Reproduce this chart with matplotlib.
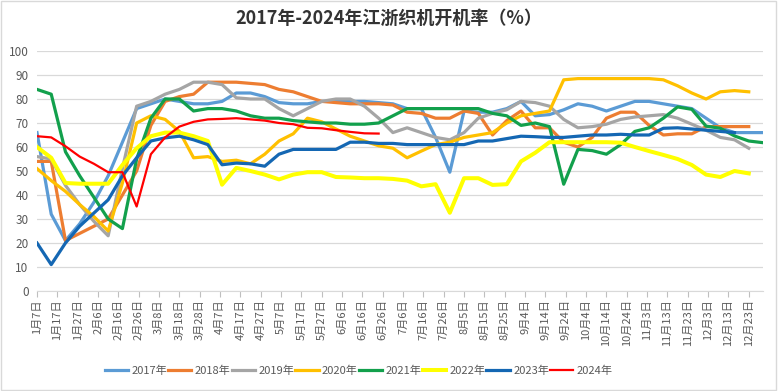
import numpy as np
import matplotlib
matplotlib.use("Agg")
import matplotlib.pyplot as plt
from matplotlib.patches import Rectangle

plt.rcParams['font.family'] = ['Noto Sans CJK SC', 'DejaVu Sans']

title = "2017年-2024年江浙织机开机率（%）"

tick_days = [7, 17, 27, 37, 47, 57, 67, 77, 87, 97, 107, 117, 127, 137, 147, 157, 167, 177,
             187, 197, 207, 217, 227, 237, 247, 257, 267, 277, 287, 297, 307, 317, 327, 337, 347, 357]
tick_labels = ["1月7日", "1月17日", "1月27日", "2月6日", "2月16日", "2月26日", "3月8日", "3月18日",
               "3月28日", "4月7日", "4月17日", "4月27日", "5月7日", "5月17日", "5月27日", "6月6日",
               "6月16日", "6月26日", "7月6日", "7月16日", "7月26日", "8月5日", "8月15日", "8月25日",
               "9月4日", "9月14日", "9月24日", "10月4日", "10月14日", "10月24日", "11月3日", "11月13日",
               "11月23日", "12月3日", "12月13日", "12月23日"]

# weekly observations, first one on day 7 of the year
y2017 = [66, 32, 21, 28, 37, 48, 62, 76, 78, 80, 79, 78, 78, 79, 82.5, 82.5, 81, 78.5, 78, 78,
         79, 79, 79, 79, 78.5, 78, 76, 76, 64, 49.5, 75, 74.5, 74.5, 76, 79, 73, 73.5, 75.5, 78, 77,
         75, 77, 79, 79, 78, 77, 76, 72, 68, 66, 66, 66]
y2018 = [54, 54, 21, 24, 27, 30, 40, 50, 69, 79, 81, 82, 87, 87, 87, 86.5, 86, 84, 83, 81,
         79, 78.5, 78, 78, 78, 77.5, 74.5, 74, 72, 72, 75, 74, 65, 71, 75, 68, 68, 62, 60, 64,
         72, 74.5, 74.5, 69, 65, 65.5, 65.5, 68.5, 68.5, 68.5, 68.5]
y2019 = [56, 55, 44, 36, 29, 23, 51, 77, 79, 82, 84, 87, 87, 86, 80.5, 80, 80, 76, 73, 76,
         79, 80, 80, 77, 72, 66, 68, 66, 64, 63, 66, 72, 74, 75.5, 79, 78.5, 77, 71.5, 68, 68.5,
         69.5, 71.5, 72.5, 73, 73.5, 72, 69.5, 67, 64, 63, 59.5]
y2020 = [51, 46, 41.5, 36, 31, 25, 45, 70, 73, 71.5, 66.5, 55.5, 56, 54, 54.5, 53, 57, 62.5, 65.5, 72,
         70.5, 67.5, 64.5, 62.5, 60.5, 59.5, 55.5, 58.3, 61, 62, 64, 65, 66, 70, 73, 74, 75, 88, 88.5, 88.5,
         88.5, 88.5, 88.5, 88.5, 88, 85.5, 82.5, 80, 83, 83.5, 83]
y2021 = [84, 82, 58, 48, 39, 30, 26, 55, 72, 80, 80, 75, 76, 76, 75, 73, 72, 72, 71, 70.5,
         70, 70, 69.5, 69.5, 70, 73, 76, 76, 76, 76, 76, 76, 74, 73, 69, 70, 68.5, 44.5, 59, 58.5,
         57, 61, 66.5, 68, 72, 76.7, 75.7, 68.7, 67.8, 64.6, 62.5, 61.8]
y2022 = [60, 55.5, 45, 44.7, 44.7, 44.7, 52.5, 59.5, 64.5, 66, 66, 64.5, 62.5, 44.3, 51.3, 50, 48.5, 46.5, 48.5, 49.5,
         49.5, 47.5, 47.3, 47, 47, 46.7, 46, 43.6, 44.5, 32.6, 47, 47, 44.2, 44.5, 54, 57.6, 62, 62, 62, 62,
         62, 61.8, 60, 58.3, 56.7, 55, 52.5, 48.5, 47.5, 50, 49]
y2023 = [20, 11, 20, 27, 32.5, 38, 48, 55.5, 62.5, 63.8, 64.5, 63, 61, 52.6, 53.3, 53, 52, 57, 59, 59,
         59, 59, 62, 62, 61.5, 61.5, 61, 61, 61, 61, 61, 62.5, 62.5, 63.5, 64.5, 64.3, 64, 64, 64.5, 65,
         65, 65.3, 65, 65, 67.8, 68, 67.5, 67, 66.5, 66]
y2024 = [64.5, 64, 60.3, 56, 53, 49.5, 49.5, 35.2, 57, 64, 68.5, 70.5, 71.5, 71.7, 72, 71.5, 71, 70, 69.5, 68,
         67.8, 67, 66.3, 65.7, 65.6]

series = [("2017年", y2017, "#5B9BD5", 2.3),
          ("2018年", y2018, "#ED7D31", 2.3),
          ("2019年", y2019, "#A5A5A5", 2.3),
          ("2020年", y2020, "#FFC000", 2.3),
          ("2021年", y2021, "#12A04C", 2.3),
          ("2022年", y2022, "#FFFF00", 2.9),
          ("2023年", y2023, "#1467B3", 2.3),
          ("2024年", y2024, "#FF0000", 1.6)]

fig = plt.figure(figsize=(7.78, 3.91), dpi=100)
ax = fig.add_axes([37 / 778, 1 - 291 / 391, (763 - 37) / 778, (291 - 51) / 391])

for i, (name, vals, col, lw) in enumerate(series):
    x = 7 + 7 * np.arange(len(vals))
    ax.plot(x, vals, color=col, lw=lw, label=name, zorder=3 + i, solid_joinstyle='round')

ax.set_xlim(7, 364)
ax.set_ylim(0, 100)
ax.set_yticks(np.arange(0, 101, 10))
ax.set_xticks(tick_days)
ax.set_xticklabels(tick_labels, rotation=90, fontsize=8, color="#595959")
ax.tick_params(axis='y', length=0, labelsize=8.5, labelcolor="#595959", pad=6)
ax.tick_params(axis='x', length=4, color="#BFBFBF", pad=2)
ax.grid(axis='y', color="#D9D9D9", lw=0.9)
ax.set_axisbelow(True)
for s in ['top', 'right', 'left']:
    ax.spines[s].set_visible(False)
ax.spines['bottom'].set_color("#D9D9D9")

fig.text(0.5, 1 - 18 / 391, title, ha='center', va='center', fontsize=13,
         fontweight='bold', color="#333333")

leg = fig.legend(loc='center', bbox_to_anchor=(0.461, 1 - 371 / 391), ncol=8, frameon=False,
                 fontsize=8, handlelength=2.1, columnspacing=0.1, handletextpad=0.3)
for t in leg.get_texts():
    t.set_color("#595959")

fig.add_artist(Rectangle((0.001, 0.002), 0.997, 0.995, transform=fig.transFigure,
                         fill=False, edgecolor="#D9D9D9", lw=1))

fig.savefig("out.png", dpi=100)
